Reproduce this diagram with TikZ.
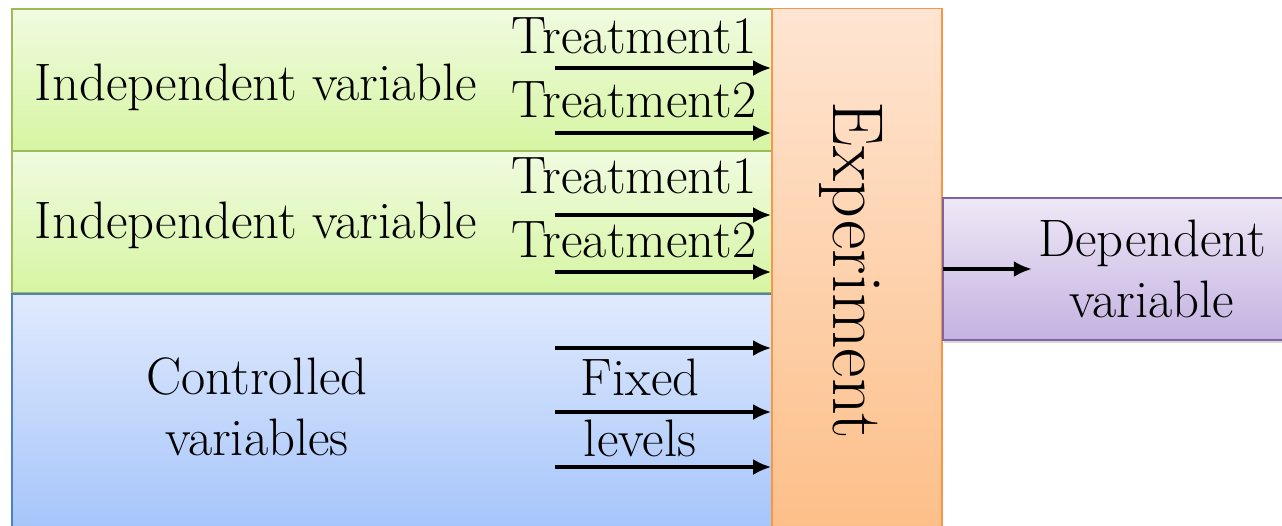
\documentclass[tikz,border=0pt]{standalone}
\usetikzlibrary{calc, arrows.meta, shadows}

\definecolor{ivline}{RGB}{155,187,89}
\definecolor{ivtop}{RGB}{240,251,224}
\definecolor{ivbot}{RGB}{214,245,162}
\definecolor{cvline}{RGB}{79,129,189}
\definecolor{cvtop}{RGB}{224,234,253}
\definecolor{cvbot}{RGB}{163,195,250}
\definecolor{exline}{RGB}{247,150,70}
\definecolor{extop}{RGB}{254,229,210}
\definecolor{exbot}{RGB}{253,190,135}
\definecolor{dvline}{RGB}{128,100,162}
\definecolor{dvtop}{RGB}{238,232,246}
\definecolor{dvbot}{RGB}{196,178,225}

\begin{document}
\begin{tikzpicture}
  [x=0.02cm, y=-0.02cm, >={Latex[length=0.36cm, width=0.32cm]},
   every node/.style={font=\fontsize{30}{35}\selectfont, align=center},
   varbox/.style={line width=1pt, drop shadow={shadow xshift=0.6pt,
       shadow yshift=-1.5pt, opacity=0.3}},
   ivbox/.style={varbox, draw=ivline, top color=ivtop, bottom color=ivbot},
   cvbox/.style={varbox, draw=cvline, top color=cvtop, bottom color=cvbot},
   dvbox/.style={varbox, draw=dvline, top color=dvtop, bottom color=dvbot},
   expbox/.style={varbox, draw=exline, top color=extop, bottom color=exbot,
       minimum width=3.4cm, minimum height=10.7cm, inner sep=0pt},
   arr/.style={->, line width=1.8pt}]
  \useasboundingbox[fill=white] (0,0) rectangle (1282,525);
  % independent variables
  \path[ivbox] (12,9) rectangle (772,151);
  \path[ivbox] (12,151) rectangle (772,293);
  % controlled variables
  \path[cvbox] (12,294) rectangle (772,540);
  % experiment
  \node[expbox] (exp) at (857,276) {};
  \node[rotate=-90, anchor=base, font=\fontsize{41}{45}\selectfont]
      (exptxt) at (833,270) {Experiment};
  % dependent variable
  \path[dvbox] (943,198) rectangle (1300,340);
  \node (dv) at (1152,269) {Dependent\\variable};
  \draw[arr] (exp.east |- dv.west) -- (dv.west);
  % labels
  \node[anchor=base] (iv1) at (256,100) {Independent variable};
  \node[anchor=base] (iv2) at (256,238) {Independent variable};
  \foreach \n/\t/\y in {t1a/Treatment1/53, t2a/Treatment2/117,
                        t1b/Treatment1/193, t2b/Treatment2/257} {
      \node[anchor=base] (\n) at (634,\y) {\t};
  }
  \node (cv) at (257,407) {Controlled\\variables};
  \node (fix) at (640,408) {Fixed\\levels};
  % inputs
  \foreach \y in {68,133,215,272,348,412,467} {
      \coordinate (in\y) at (555,\y);
      \draw[arr] (in\y) -- (in\y -| exp.west);
  }
\end{tikzpicture}
\end{document}
